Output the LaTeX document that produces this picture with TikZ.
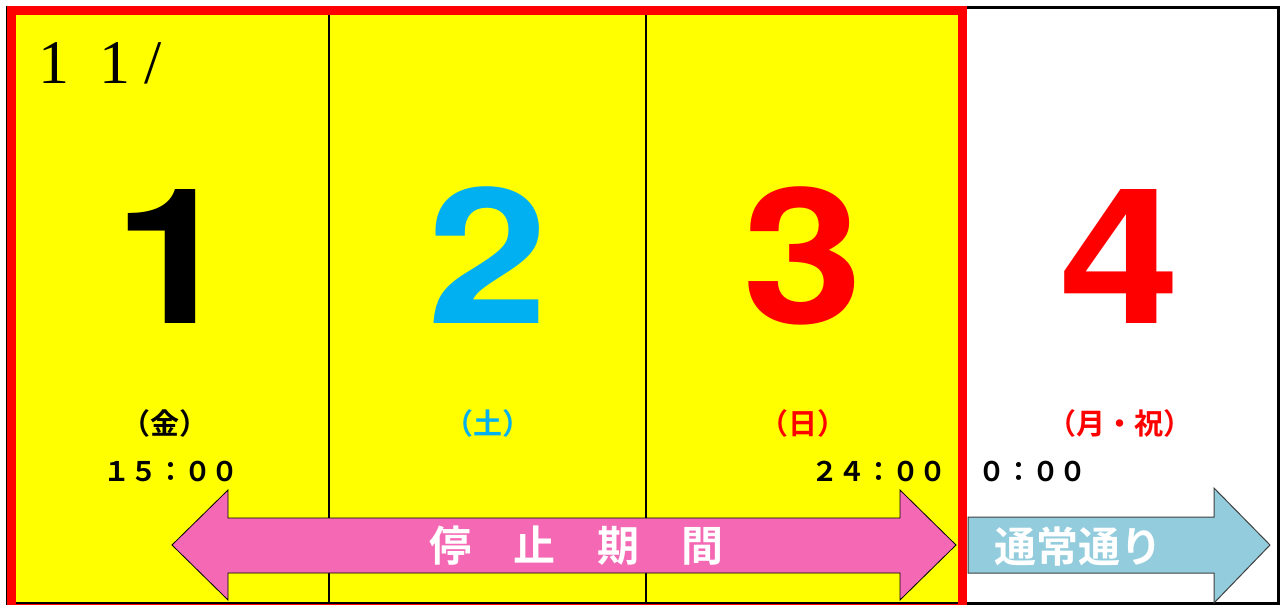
\documentclass[tikz,border=0pt]{standalone}
\usepackage{fontspec}
\newfontfamily\jpfont{Noto Sans CJK JP}[BoldFont={Noto Sans CJK JP Bold}]
\newfontfamily\numfont{TeX Gyre Heros}[FakeStretch=1.15]
\newfontfamily\serfont{Liberation Serif}
\definecolor{dayyellow}{HTML}{FFFF00}
\definecolor{dayred}{HTML}{FF0000}
\definecolor{daycyan}{HTML}{00B0F0}
\definecolor{stoppink}{HTML}{F468B4}
\definecolor{normalblue}{HTML}{93CDDD}
\tikzset{
  bignum/.style={font=\numfont\bfseries\fontsize{189}{189}\selectfont, inner sep=0pt, anchor=base},
  daytext/.style={font=\jpfont\bfseries\fontsize{29}{29}\selectfont, inner sep=0pt},
  timetext/.style={font=\jpfont\bfseries\fontsize{27}{27}\selectfont, inner sep=0pt},
  arrowtext/.style={font=\jpfont\bfseries\fontsize{42}{42}\selectfont, text=white, inner sep=0pt},
}

\begin{document}
\begin{tikzpicture}[x=1pt,y=-1pt]
	%%%%% START %%%%%
	\useasboundingbox (0,0) rectangle (1286,605);
	\clip (0,0) rectangle (1286,605);
	\fill[white] (0,0) rectangle (1286,605);
	
	\fill[dayyellow] (11,10) rectangle (962,610);
	\draw[line width=1.5pt] (329,10) -- (329,610);
	\draw[line width=1.5pt] (646,10) -- (646,610);
	\draw[line width=2.5pt] (7,7.5) rectangle (1278.5,603.5);
	
	\node[font=\serfont\fontsize{62}{62}\selectfont, anchor=base west, inner sep=0pt] (month) at (38,83) {1\hspace{30pt}1\hspace{14pt}/};
	
	\node[bignum] (n1) at (174,323.5) {1};
	\node[bignum, text=daycyan] (n2) at (488,323.5) {2};
	\node[bignum, text=dayred] (n3) at (803,323.5) {3};
	\node[bignum, text=dayred] (n4) at (1120,323.5) {4};
	
	\node[daytext] (d1) at (165,423) {（金）};
	\node[daytext, text=daycyan] (d2) at (488,423) {（土）};
	\node[daytext, text=dayred] (d3) at (803,423) {（日）};
	\node[daytext, text=dayred] (d4) at (1120,423) {（月・祝）};
	
	\node[timetext] (t1) at (171,471) {１５：００};
	\node[timetext] (t2) at (879,471) {２４：００};
	\node[timetext] (t3) at (1032,471) {０：００};
	
	% arrows
	\draw[fill=stoppink, line width=0.8pt] (172,545) -- (228,490) -- (228,518) -- (900,518) -- (900,490) -- (956,545)
		-- (900,600) -- (900,573) -- (228,573) -- (228,600) -- cycle;
	\node[arrowtext] (stop) at (576,546) {停　止　期　間};
	
	\draw[fill=normalblue, draw=black!75, line width=1pt] (968,517) -- (1214,517) -- (1214,488) -- (1270,545)
		-- (1214,603) -- (1214,573) -- (968,573) -- cycle;
	\node[arrowtext] (normal) at (1078,547) {通常通り};
	
	\draw[dayred, line width=9pt] (11.5,10.5) rectangle (962.5,608.5);
	%%%%% END %%%%%
\end{tikzpicture}
\end{document}
